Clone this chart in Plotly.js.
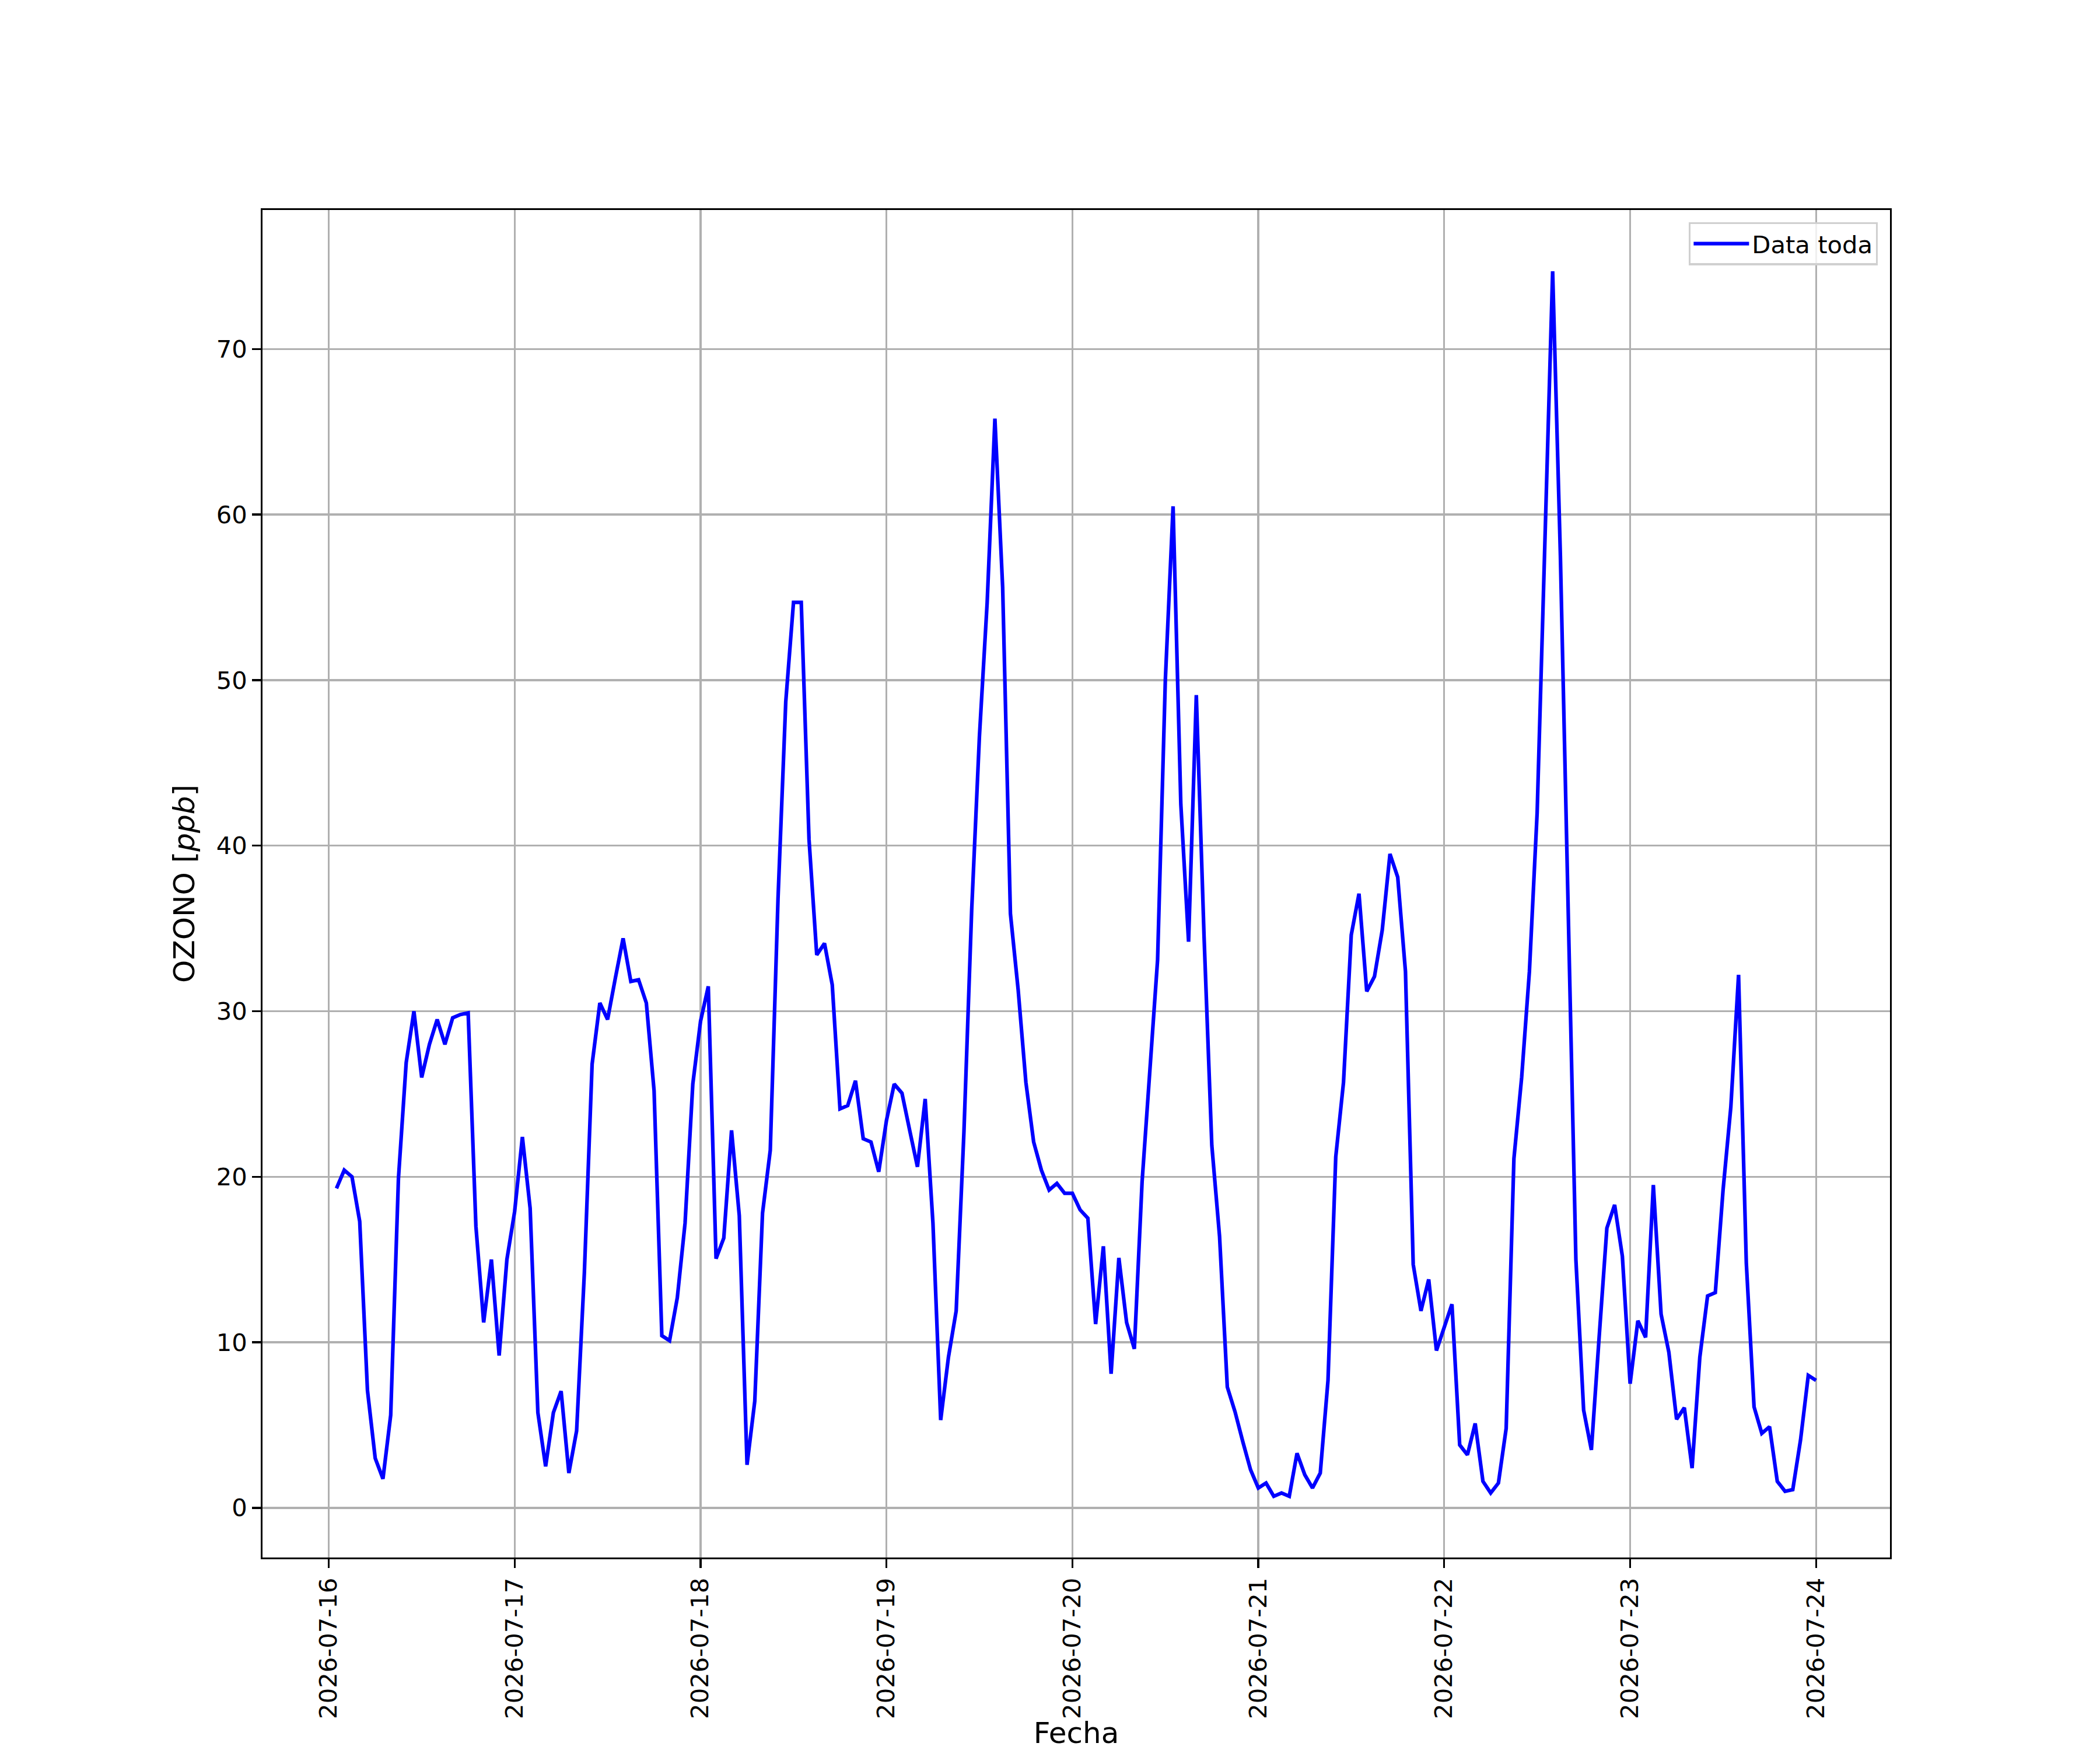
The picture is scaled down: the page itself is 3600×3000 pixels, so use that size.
<!DOCTYPE html>
<html>
<head>
<meta charset="utf-8">
<script src="https://cdn.plot.ly/plotly-3.0.1.min.js"></script>
<style>html,body{margin:0;padding:0;background:#fff;}</style>
</head>
<body>
<div id="chart" style="width:3600px;height:3000px;"></div>
<script>
// Hourly ozone readings (ppb); first day starts at 01:00, last value is 2026-07-24 00:00
const startTime = "2026-07-16T01:00:00";
const day16 = [19.3, 20.4, 20.0, 17.3, 7.1, 3.0, 1.75, 5.6, 19.9, 26.9, 30.0, 26.0, 28.0, 29.5, 28.0, 29.6, 29.8, 29.9, 17.0, 11.2, 15.0, 9.2, 15.0];
const day17 = [17.9, 22.4, 18.1, 5.75, 2.5, 5.75, 7.05, 2.1, 4.65, 14.2, 26.8, 30.5, 29.5, 32.0, 34.4, 31.8, 31.9, 30.5, 25.2, 10.4, 10.1, 12.7, 17.2, 25.6];
const day18 = [29.4, 31.5, 15.05, 16.3, 22.8, 17.65, 2.6, 6.45, 17.8, 21.6, 36.8, 48.7, 54.7, 54.7, 40.4, 33.4, 34.1, 31.6, 24.1, 24.3, 25.8, 22.3, 22.1, 20.3];
const day19 = [23.4, 25.6, 25.05, 22.8, 20.6, 24.7, 17.2, 5.3, 9.1, 11.9, 22.7, 36.1, 46.6, 54.7, 65.8, 55.6, 35.9, 31.3, 25.7, 22.1, 20.4, 19.2, 19.6, 19.0];
const day20 = [19.0, 18.0, 17.5, 11.1, 15.8, 8.1, 15.1, 11.2, 9.6, 19.7, 26.6, 33.1, 50.0, 60.5, 42.5, 34.2, 49.1, 34.5, 21.9, 16.4, 7.3, 5.8, 4.0, 2.3];
const day21 = [1.2, 1.5, 0.7, 0.9, 0.7, 3.3, 2.0, 1.2, 2.1, 7.7, 21.2, 25.7, 34.6, 37.1, 31.2, 32.1, 34.9, 39.5, 38.1, 32.4, 14.7, 11.9, 13.8, 9.5];
const day22 = [10.9, 12.3, 3.8, 3.2, 5.1, 1.6, 0.9, 1.5, 4.8, 21.1, 26.0, 32.4, 42.0, 58.5, 74.7, 57.5, 35.0, 15.0, 5.9, 3.5, 10.3, 16.9, 18.3, 15.2];
const day23 = [7.5, 11.3, 10.3, 19.5, 11.7, 9.4, 5.35, 6.05, 2.4, 9.1, 12.8, 13.0, 19.2, 24.2, 32.2, 14.8, 6.1, 4.5, 4.9, 1.6, 1.0, 1.1, 4.1, 8.0];
const day24 = [7.7];

const seriesName = "Data toda";
const xTitle = "Fecha";
const yTitle = "OZONO [<i>ppb</i>]";
const xTickStart = "2026-07-16";

const ozone = [].concat(day16, day17, day18, day19, day20, day21, day22, day23, day24);
const t0 = new Date(startTime + "Z").getTime();
const HOUR = 3600000;
function fmt(ms) {
  const d = new Date(ms);
  const p = n => String(n).padStart(2, "0");
  return d.getUTCFullYear() + "-" + p(d.getUTCMonth() + 1) + "-" + p(d.getUTCDate()) + " " + p(d.getUTCHours()) + ":" + p(d.getUTCMinutes()) + ":" + p(d.getUTCSeconds());
}
const times = ozone.map((v, i) => fmt(t0 + i * HOUR));

// matplotlib-like 5% autoscale margins
const tmin = t0, tmax = t0 + (ozone.length - 1) * HOUR;
const tm = 0.05 * (tmax - tmin);
const vmin = Math.min(...ozone), vmax = Math.max(...ozone);
const vm = 0.05 * (vmax - vmin);

const FONT = "DejaVu Sans";
const trace = {
  x: times, y: ozone, type: "scatter", mode: "lines", name: seriesName,
  line: { color: "#0000ff", width: 6.25 }
};

const layout = {
  width: 3600, height: 3000,
  margin: { l: 450, r: 360, t: 360, b: 330, pad: 0 },
  paper_bgcolor: "#ffffff", plot_bgcolor: "#ffffff",
  font: { family: FONT, size: 41.7, color: "#000000" },
  showlegend: true,
  legend: {
    x: 0.9925, y: 0.991, xanchor: "right", yanchor: "top",
    bgcolor: "rgba(255,255,255,0.8)", bordercolor: "#d0d0d0", borderwidth: 3.3,
    font: { family: FONT, size: 41.7, color: "#000000" },
    itemwidth: 95
  },
  xaxis: {
    type: "date",
    range: [fmt(tmin - tm), fmt(tmax + tm)],
    tick0: xTickStart, dtick: 86400000, tickformat: "%Y-%m-%d",
    tickangle: -90,
    ticks: "outside", ticklen: 14.6, tickwidth: 3.33, tickcolor: "#000000",
    tickfont: { family: FONT, size: 41.7, color: "#000000" },
    showgrid: true, gridcolor: "#b0b0b0", gridwidth: 3.33,
    showline: true, linecolor: "#000000", linewidth: 3.33, mirror: true,
    zeroline: false,
    title: { text: xTitle, font: { family: FONT, size: 50, color: "#000000" }, standoff: 26 },
    automargin: false
  },
  yaxis: {
    range: [vmin - vm, vmax + vm],
    tick0: 0, dtick: 10,
    ticks: "outside", ticklen: 14.6, tickwidth: 3.33, tickcolor: "#000000",
    tickfont: { family: FONT, size: 41.7, color: "#000000" },
    showgrid: true, gridcolor: "#b0b0b0", gridwidth: 3.33,
    showline: true, linecolor: "#000000", linewidth: 3.33, mirror: true,
    zeroline: false,
    title: { text: yTitle, font: { family: FONT, size: 50, color: "#000000" }, standoff: 22 },
    automargin: false
  }
};

Plotly.newPlot("chart", [trace], layout, { displayModeBar: false, staticPlot: true });
</script>
</body>
</html>
